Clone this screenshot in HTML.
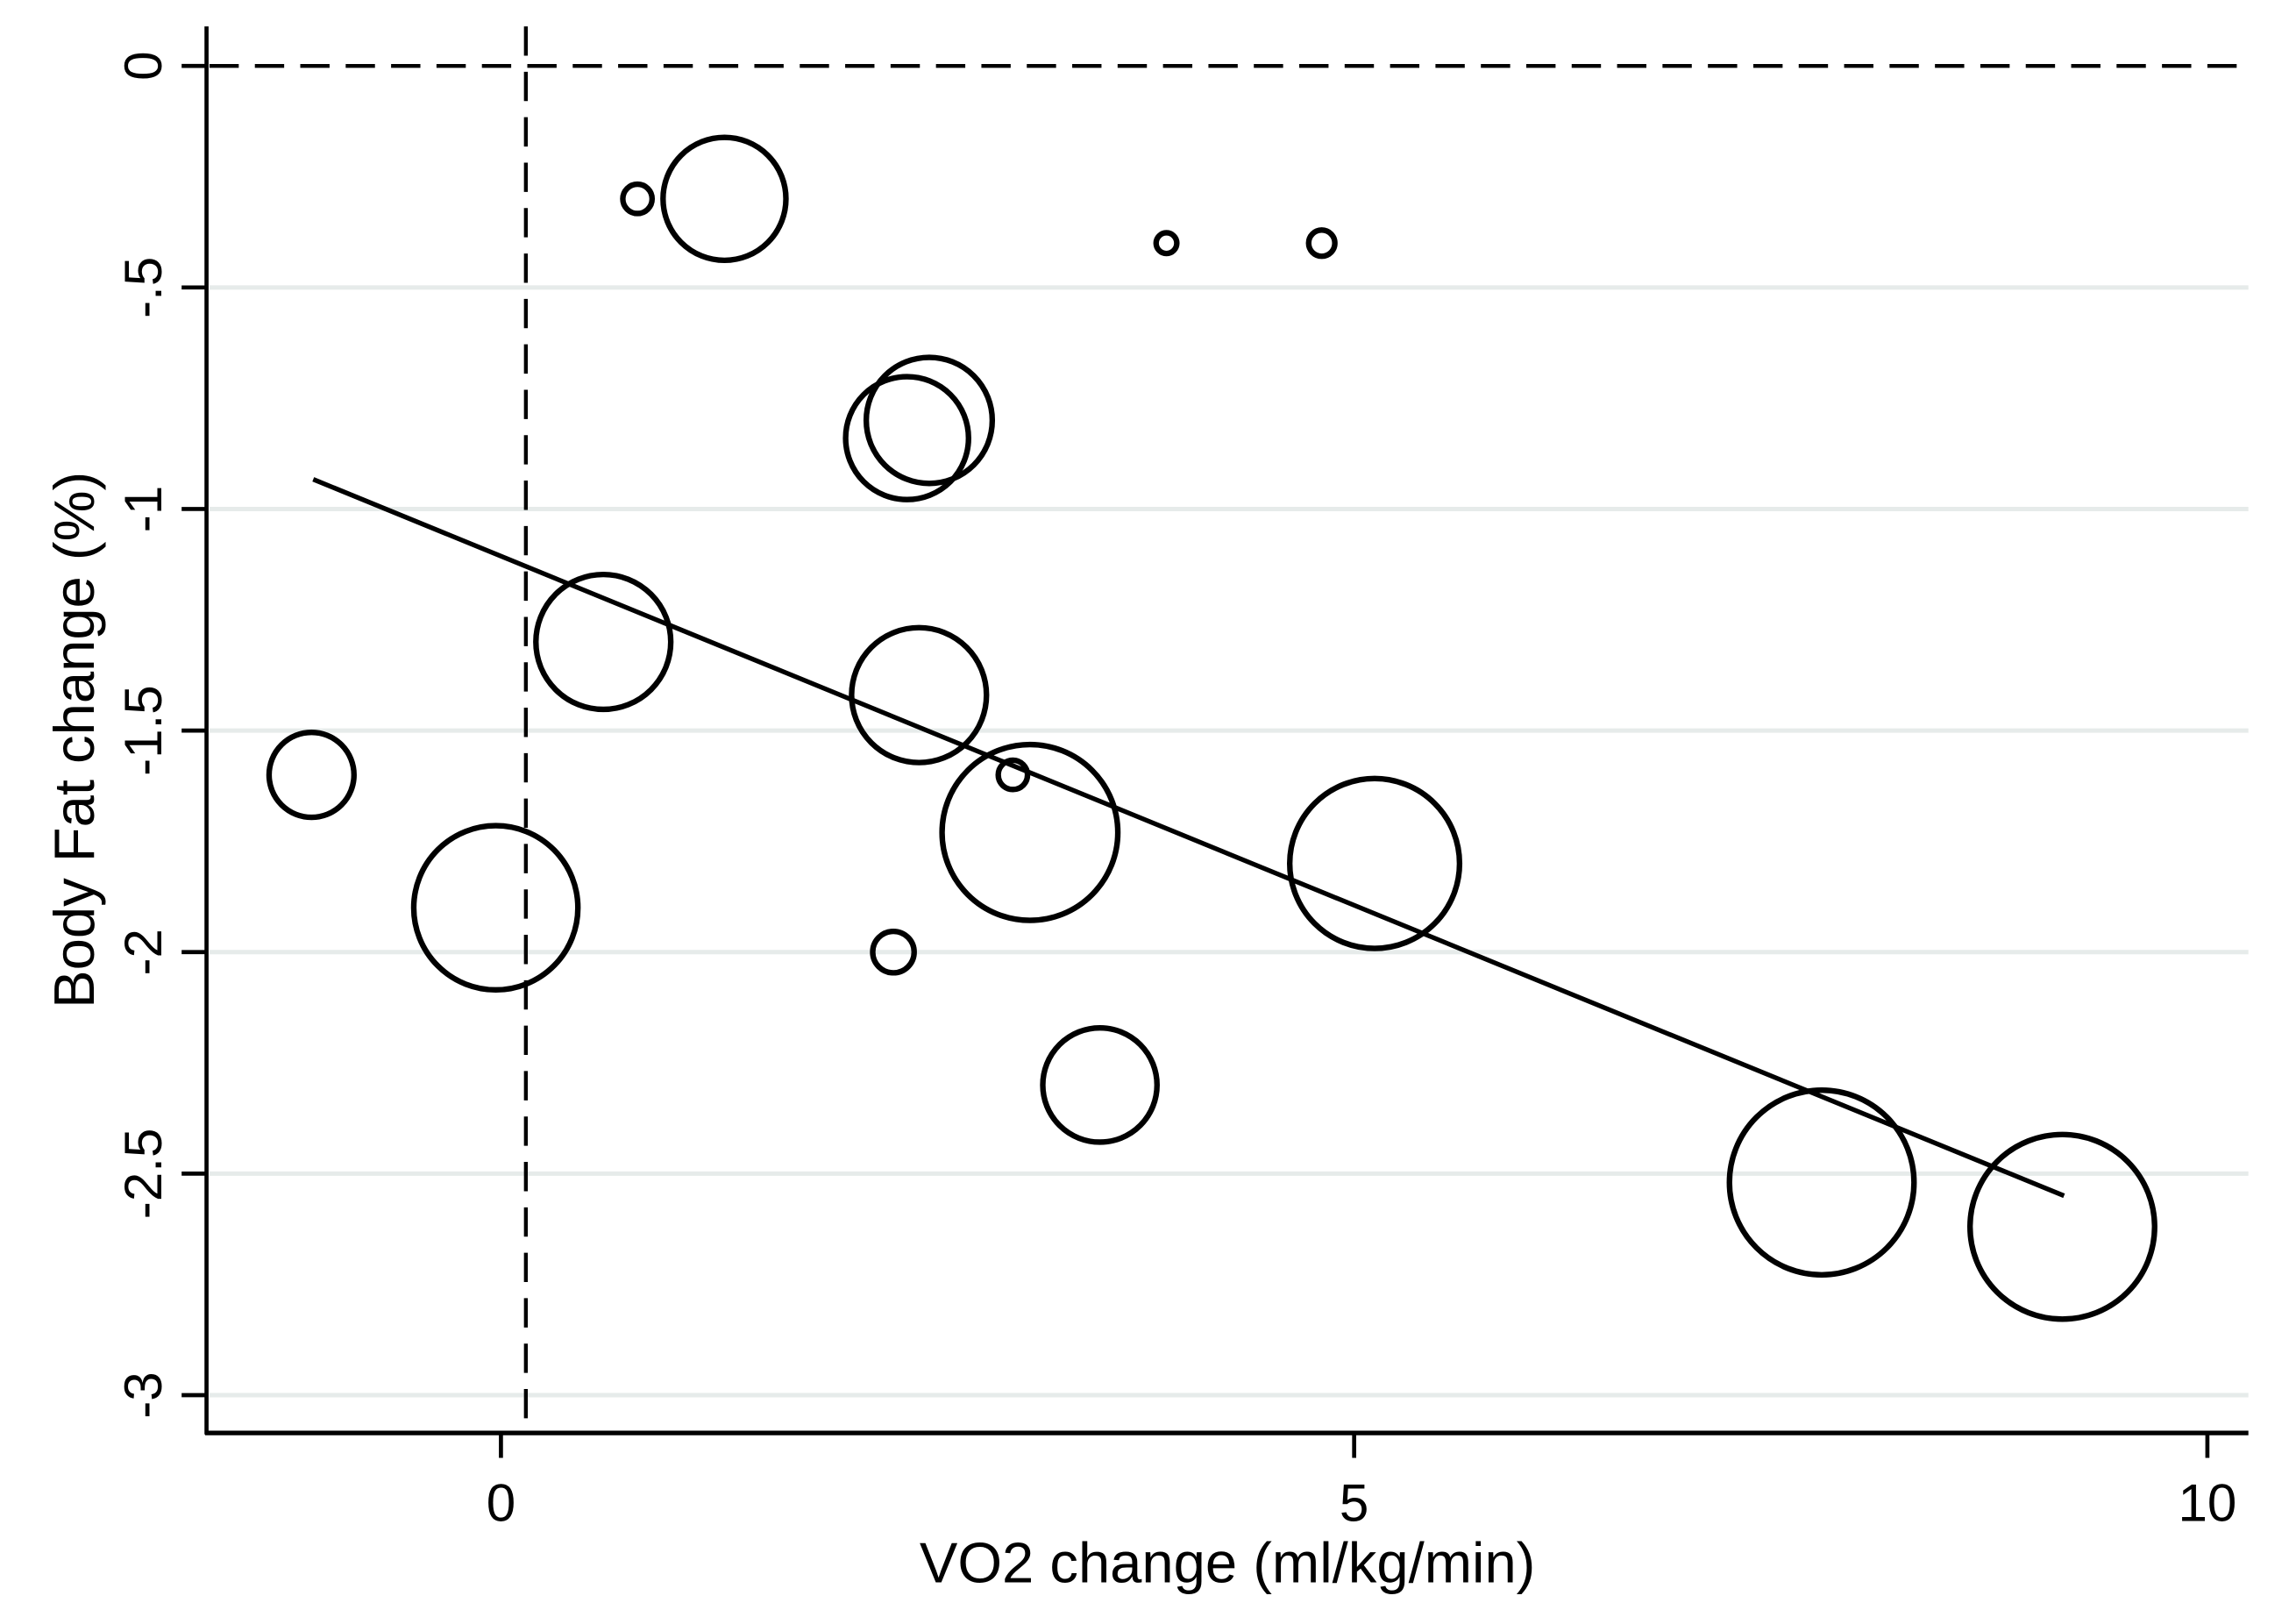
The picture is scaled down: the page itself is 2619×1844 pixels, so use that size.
<!DOCTYPE html>
<html><head><meta charset="utf-8"><style>html,body{margin:0;padding:0;background:#fff}svg{display:block}</style></head>
<body>
<svg id="chart" width="2619" height="1844" viewBox="0 0 1567.5 1103.6" preserveAspectRatio="none" xmlns="http://www.w3.org/2000/svg" font-family="Liberation Sans, Arial, sans-serif"></svg>
<script>
const xValues=[0.80,1.31,3.90,4.81,2.38,2.51,0.60,2.45,-1.11,3.00,3.10,-0.03,5.12,2.30,3.51,7.74,9.15];
const yValues=[-0.30,-0.30,-0.40,-0.40,-0.84,-0.80,-1.30,-1.42,-1.60,-1.60,-1.73,-1.90,-1.80,-2.00,-2.30,-2.52,-2.62];
const weights=[1.0,17.6,0.5,0.8,17.6,18.5,21.2,21.2,8.4,1.0,36,31.4,33.6,2.0,15.2,39.7,39.7];
const xTicks=[0,5,10];
const xTickLabels=["0","5","10"];
const yTicks=[0,-0.5,-1,-1.5,-2,-2.5,-3];
const yTickLabels=["0","-.5","-1","-1.5","-2","-2.5","-3"];
const fitX=[-1.1,9.16];
const fitY=[-0.933,-2.55];
const refX=0.146, refY=0;

const NS="http://www.w3.org/2000/svg";
const svg=document.getElementById('chart');
const X=v=>342+v*116.5;
const Y=v=>45-v*302.4;
function mk(t,a,p){const e=document.createElementNS(NS,t);for(const k in a)e.setAttribute(k,a[k]);(p||svg).appendChild(e);return e;}
yTicks.forEach((t,i)=>{if(t===0)return;const g=mk('line',{x1:143,x2:1535,y1:Y(t),y2:Y(t),stroke:'#e6ebea','stroke-width':3});

});
let r1=mk('line',{x1:143,x2:1535,y1:Y(refY),y2:Y(refY),stroke:'#000','stroke-width':2.6,'stroke-dasharray':'20 11'});


let r2=mk('line',{x1:X(refX),x2:X(refX),y1:18,y2:978,stroke:'#000','stroke-width':2.6,'stroke-dasharray':'20 11'});


let ax=mk('line',{x1:141,x2:141,y1:18,y2:979,stroke:'#000','stroke-width':2.8});


let axx=mk('line',{x1:140,x2:1535,y1:978,y2:978,stroke:'#000','stroke-width':3.2});


yTicks.forEach((t,i)=>{
 const tk=mk('line',{x1:124,x2:141,y1:Y(t),y2:Y(t),stroke:'#000','stroke-width':2.8});
 
 
 const tx=mk('text',{x:0,y:0,'font-size':36,'text-anchor':'middle',transform:`translate(110,${Y(t)}) rotate(-90)`});
 tx.textContent=yTickLabels[i];
 
 
});
xTicks.forEach((t,i)=>{
 const tk=mk('line',{x1:X(t),x2:X(t),y1:978,y2:995,stroke:'#000','stroke-width':2.8});
 
 
 const tx=mk('text',{x:X(t),y:1038,'font-size':36,'text-anchor':'middle'});
 tx.textContent=xTickLabels[i];
 
 
});
let xt=mk('text',{x:838,y:1080,'font-size':39,'text-anchor':'middle'});
xt.textContent='VO2 change (ml/kg/min)';


let yt=mk('text',{x:0,y:0,'font-size':39,'text-anchor':'middle',transform:'translate(64,505) rotate(-90)'});
yt.textContent='Body Fat change (%)';


xValues.forEach((v,i)=>{
 const c=mk('circle',{cx:X(v),cy:Y(yValues[i]),r:10*Math.sqrt(weights[i]),fill:'none',stroke:'#000','stroke-width':3.8});
 
 
});
let fl=mk('line',{x1:X(fitX[0]),y1:Y(fitY[0]),x2:X(fitX[1]),y2:Y(fitY[1]),stroke:'#000','stroke-width':3.2});


</script>
</body></html>
